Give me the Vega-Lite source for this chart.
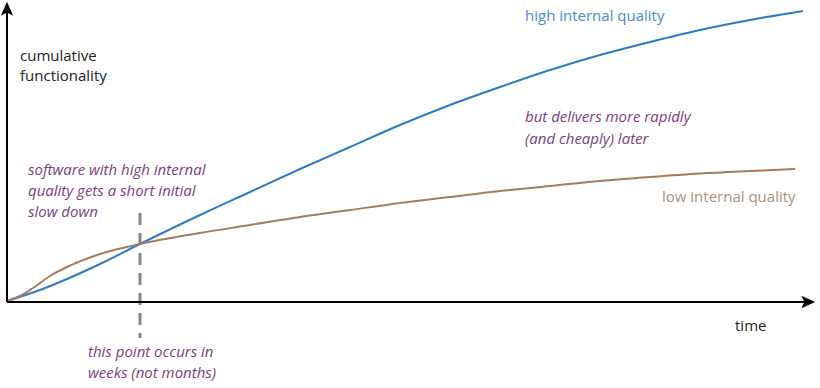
{
  "$schema": "https://vega.github.io/schema/vega-lite/v6.json",
  "width": 820,
  "height": 388,
  "padding": 0,
  "autosize": {"type": "fit", "contains": "padding"},
  "background": "white",
  "config": {"view": {"stroke": null}, "font": "Open Sans"},
  "datasets": {
    "curves": [
      {"series": "high", "t": 0, "f": 1},
      {"series": "high", "t": 33, "f": 12},
      {"series": "high", "t": 60, "f": 23},
      {"series": "high", "t": 93, "f": 38},
      {"series": "high", "t": 133, "f": 58},
      {"series": "high", "t": 193, "f": 87},
      {"series": "high", "t": 243, "f": 110},
      {"series": "high", "t": 293, "f": 133},
      {"series": "high", "t": 343, "f": 155},
      {"series": "high", "t": 393, "f": 177},
      {"series": "high", "t": 443, "f": 197},
      {"series": "high", "t": 493, "f": 215},
      {"series": "high", "t": 543, "f": 232},
      {"series": "high", "t": 593, "f": 247},
      {"series": "high", "t": 643, "f": 260},
      {"series": "high", "t": 693, "f": 272},
      {"series": "high", "t": 743, "f": 282},
      {"series": "high", "t": 796, "f": 291},
      {"series": "low", "t": 0, "f": 1},
      {"series": "low", "t": 13, "f": 6},
      {"series": "low", "t": 26, "f": 14},
      {"series": "low", "t": 43, "f": 26},
      {"series": "low", "t": 60, "f": 35},
      {"series": "low", "t": 93, "f": 48},
      {"series": "low", "t": 133, "f": 58},
      {"series": "low", "t": 193, "f": 69},
      {"series": "low", "t": 243, "f": 77},
      {"series": "low", "t": 293, "f": 85},
      {"series": "low", "t": 343, "f": 92},
      {"series": "low", "t": 393, "f": 99},
      {"series": "low", "t": 443, "f": 105},
      {"series": "low", "t": 493, "f": 111},
      {"series": "low", "t": 543, "f": 116},
      {"series": "low", "t": 593, "f": 121},
      {"series": "low", "t": 643, "f": 125},
      {"series": "low", "t": 693, "f": 128.5},
      {"series": "low", "t": 743, "f": 131},
      {"series": "low", "t": 788, "f": 133}
    ],
    "axes": [
      {"name": "y", "t": 0, "f": 0, "t2": 0, "f2": 292},
      {"name": "x", "t": 0, "f": 0, "t2": 800, "f2": 0}
    ],
    "heads": [
      {"dir": "up", "t": 0, "f": 292},
      {"dir": "right", "t": 800, "f": 0}
    ],
    "marker": [
      {"t": 133, "f": 89, "f2": -36}
    ],
    "axisText": [
      {"label": "cumulative", "t": 13, "f": 246},
      {"label": "functionality", "t": 13, "f": 226},
      {"label": "time", "t": 728, "f": -24}
    ],
    "seriesText": [
      {"series": "high", "label": "high internal quality", "t": 518, "f": 286},
      {"series": "low", "label": "low internal quality", "t": 655, "f": 105}
    ],
    "notes": [
      {"label": "software with high internal", "t": 21, "f": 132},
      {"label": "quality gets a short initial", "t": 21, "f": 111},
      {"label": "slow down", "t": 21, "f": 90},
      {"label": "but delivers more rapidly", "t": 518, "f": 185},
      {"label": "(and cheaply) later", "t": 518, "f": 163},
      {"label": "this point occurs in", "t": 81, "f": -50},
      {"label": "weeks (not months)", "t": 81, "f": -71}
    ]
  },
  "layer": [
    {
      "data": {"name": "marker"},
      "mark": {"type": "rule", "color": "#888888", "strokeWidth": 3, "strokeDash": [12, 8]},
      "encoding": {
        "x": {"field": "t", "type": "quantitative", "scale": {"domain": [-7, 813], "nice": false, "zero": false}, "axis": null},
        "y": {"field": "f", "type": "quantitative", "scale": {"domain": [-86, 302], "nice": false, "zero": false}, "axis": null},
        "y2": {"field": "f2"}
      }
    },
    {
      "data": {"name": "curves"},
      "mark": {"type": "line", "interpolate": "monotone", "strokeWidth": 2},
      "encoding": {
        "x": {"field": "t", "type": "quantitative"},
        "y": {"field": "f", "type": "quantitative"},
        "color": {"field": "series", "type": "nominal", "scale": {"domain": ["high", "low"], "range": ["#2d7bc0", "#a37d61"]}, "legend": null},
        "order": {"field": "t"}
      }
    },
    {
      "data": {"name": "axes"},
      "mark": {"type": "rule", "color": "#000000", "strokeWidth": 2},
      "encoding": {
        "x": {"field": "t", "type": "quantitative"},
        "y": {"field": "f", "type": "quantitative"},
        "x2": {"field": "t2"},
        "y2": {"field": "f2"}
      }
    },
    {
      "data": {"name": "heads"},
      "mark": {"type": "point", "filled": true, "color": "#000000", "opacity": 1, "size": 270},
      "encoding": {
        "x": {"field": "t", "type": "quantitative"},
        "y": {"field": "f", "type": "quantitative"},
        "shape": {"field": "dir", "type": "nominal", "scale": {"domain": ["up", "right"], "range": ["M0,-1L0.75,0.7L0,0.3L-0.75,0.7Z", "M1,0L-0.7,0.75L-0.3,0L-0.7,-0.75Z"]}, "legend": null}
      }
    },
    {
      "data": {"name": "axisText"},
      "mark": {"type": "text", "align": "left", "baseline": "middle", "fontSize": 15, "color": "#222222"},
      "encoding": {
        "x": {"field": "t", "type": "quantitative"},
        "y": {"field": "f", "type": "quantitative"},
        "text": {"field": "label"}
      }
    },
    {
      "data": {"name": "seriesText"},
      "mark": {"type": "text", "align": "left", "baseline": "middle", "fontSize": 15},
      "encoding": {
        "x": {"field": "t", "type": "quantitative"},
        "y": {"field": "f", "type": "quantitative"},
        "text": {"field": "label"},
        "color": {"field": "series", "type": "nominal", "scale": {"domain": ["high", "low"], "range": ["#4a8bc8", "#a8907e"]}, "legend": null}
      }
    },
    {
      "data": {"name": "notes"},
      "mark": {"type": "text", "align": "left", "baseline": "middle", "fontSize": 15, "fontStyle": "italic", "color": "#7a3e7c"},
      "encoding": {
        "x": {"field": "t", "type": "quantitative"},
        "y": {"field": "f", "type": "quantitative"},
        "text": {"field": "label"}
      }
    }
  ],
  "resolve": {"scale": {"color": "independent"}}
}
